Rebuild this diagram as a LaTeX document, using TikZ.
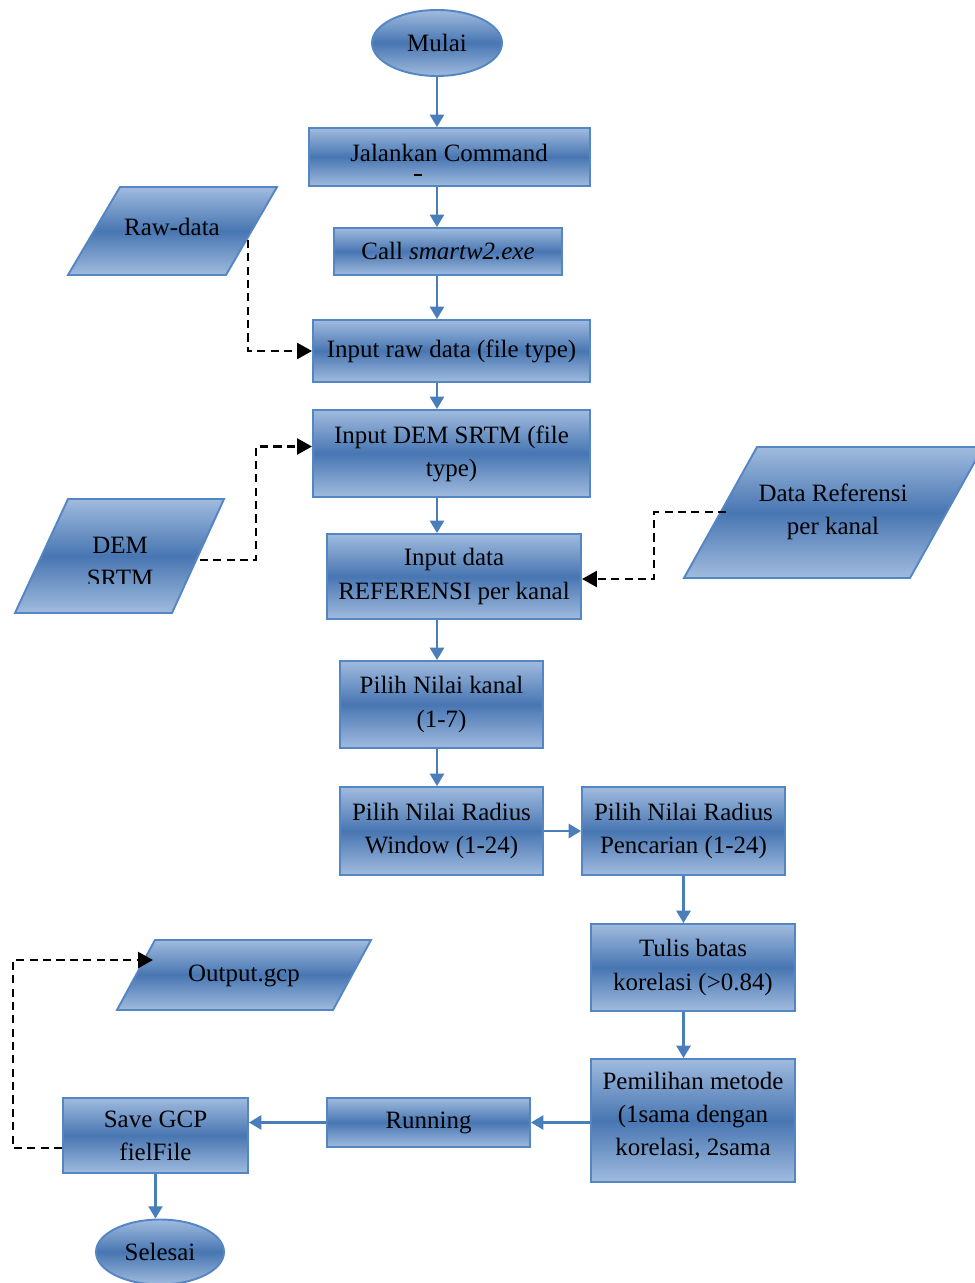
\documentclass[tikz,border=0pt]{standalone}
\usepackage{fontspec}
\setmainfont{Liberation Serif}
\usetikzlibrary{shapes.geometric,arrows.meta}
\definecolor{boxmid}{RGB}{72,118,178}
\definecolor{boxedge}{RGB}{160,187,222}
\definecolor{boxline}{RGB}{84,134,196}
\definecolor{flow}{RGB}{74,126,187}
\begin{document}
\begin{tikzpicture}[x=0.02cm,y=-0.02cm,
  font=\fontsize{14.2}{18.8}\selectfont,
  fillgrad/.style={top color=boxedge,bottom color=boxedge,middle color=boxmid},
  sz/.style 2 args={minimum width=#1*0.02cm,minimum height=#2*0.02cm},
  proc/.style={rectangle,draw=boxline,line width=1.1pt,fillgrad,inner sep=0pt,align=center},
  term/.style={ellipse,draw=boxline,line width=1.1pt,fillgrad,inner sep=0pt},
  iobox/.style={draw=boxline,line width=1.1pt,fillgrad},
  txt/.style={align=center,inner sep=0pt},
  flowarrow/.style={draw=flow,line width=1.3pt,-{Triangle[width=8pt,length=7pt]}},
  dataarrow/.style={draw=black,line width=1.6pt,dash pattern=on 4.6pt off 3pt,-{Triangle[width=9pt,length=8.5pt]}},
]
\useasboundingbox (0,0) rectangle (974,1283);

% main column
\coordinate (trunk) at (437,0);
\node[term,sz={130}{66}] (mulai) at (437,43) {Mulai};
\node[proc,sz={281}{58}] (jal) at (449.5,157) {};
\node[txt] at (449,153) {Jalankan Command};
\fill (414,174.5) rectangle (422,176);
\node[proc,sz={228}{47}] (call) at (448,251.5) {Call \textit{smartw2.exe}};
\node[proc,sz={277}{62}] (inraw) at (451.5,351) {Input raw data (file type)};
\node[proc,sz={277}{87}] (indem) at (451.5,453.5) {Input DEM SRTM (file\\type)};
\node[proc,sz={254}{85}] (indata) at (454,576.5) {Input data\\REFERENSI per kanal};
\node[proc,sz={203}{87}] (kanal) at (441.5,704.5) {Pilih Nilai kanal\\(1-7)};
\node[proc,sz={203}{88}] (win) at (441.5,831) {Pilih Nilai Radius\\Window (1-24)};
\node[proc,sz={203}{88}] (pen) at (683.5,831) {Pilih Nilai Radius\\Pencarian (1-24)};
\node[proc,sz={204}{87}] (tulis) at (693,967.5) {Tulis batas\\korelasi (>0.84)};
\node[proc,sz={204}{123}] (pem) at (693,1120.5) {};
\node[txt] at (693,1116) {Pemilihan metode\\(1sama dengan\\korelasi, 2sama};
\node[proc,sz={203}{49}] (run) at (428.5,1122.5) {Running};
\node[proc,sz={185}{75}] (save) at (155.5,1135.5) {Save GCP\\fielFile};
\node[term,sz={128}{65}] (sel) at (160,1252) {Selesai};

% data parallelograms
\path[iobox] (120,187) -- (277,187) -- (226,275) -- (68,275) -- cycle;
\node[txt] (raw) at (172,227) {Raw-data};
\path[iobox] (68,499) -- (224,499) -- (172,613) -- (15,613) -- cycle;
\begin{scope}
  \clip (0,499) rectangle (300,583);
  \node[txt] (dem) at (120,562) {DEM\\SRTM};
\end{scope}
\path[iobox] (757,447) -- (983,447) -- (910,578) -- (684,578) -- cycle;
\node[txt] (dref) at (833,512) {Data Referensi\\per kanal};
\path[iobox] (155,940) -- (371,940) -- (333,1010) -- (117,1010) -- cycle;
\node[txt] (outg) at (244,976) {Output.gcp};

% flow connectors
\draw[flowarrow] (mulai.south) -- (mulai.south |- jal.north);
\draw[flowarrow] (jal.south -| trunk) -- (call.north -| trunk);
\draw[flowarrow] (call.south -| trunk) -- (inraw.north -| trunk);
\draw[flowarrow] (inraw.south -| trunk) -- (indem.north -| trunk);
\draw[flowarrow] (indem.south -| trunk) -- (indata.north -| trunk);
\draw[flowarrow] (indata.south -| trunk) -- (kanal.north -| trunk);
\draw[flowarrow] (kanal.south -| trunk) -- (win.north -| trunk);
\draw[flowarrow] (win.east) -- (pen.west);
\draw[flowarrow] (pen.south) -- (pen.south |- tulis.north);
\draw[flowarrow] (pen.south |- tulis.south) -- (pen.south |- pem.north);
\draw[flowarrow] (run.east -| pem.west) -- (run.east);
\draw[flowarrow] (run.west) -- (run.west -| save.east);
\draw[flowarrow] (save.south) -- (save.south |- sel.north);

% data connectors
\coordinate (rawout) at (248,240);
\coordinate (demout) at (200,560);
\coordinate (refout) at (726,512);
\coordinate (outin) at (153,960);
\draw[dataarrow] (rawout) |- (inraw.west);
\draw[dataarrow] (demout) -- ++(56,0) |- ([yshift=0.14cm]indem.west);
\draw[dataarrow] (refout) -- ++(-72,0) |- ([yshift=-0.05cm]indata.east);
\draw[dataarrow] ([yshift=-0.25cm]save.west) -- ++(-49,0) |- (outin);
\end{tikzpicture}
\end{document}
